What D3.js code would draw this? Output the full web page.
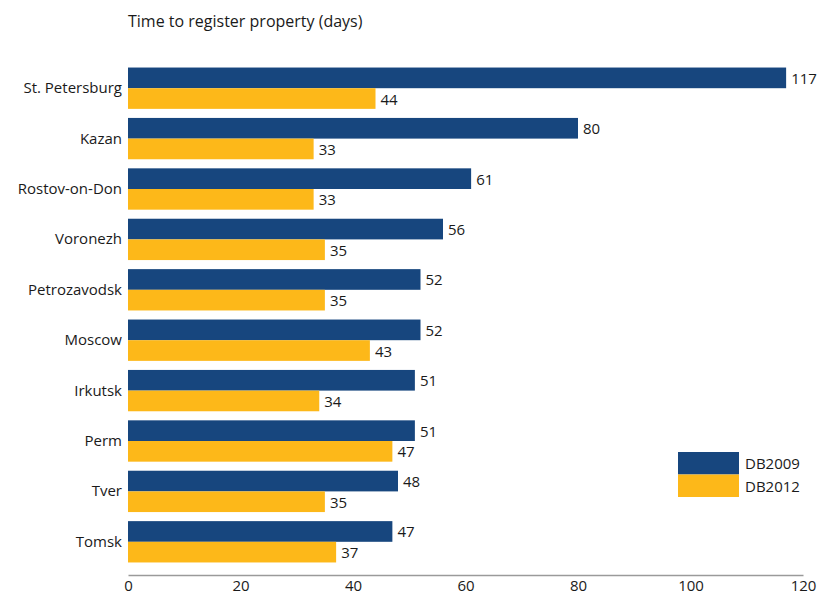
<!DOCTYPE html>
<html>
<head>
<meta charset="utf-8">
<script src="https://cdn.jsdelivr.net/npm/d3@7"></script>
<style>
  body { margin: 0; background: #fff; }
  text { font-family: "Open Sans", sans-serif; fill: #1a1a1a; }
</style>
</head>
<body>
<div id="chart"></div>
<script>
const cities = ["St. Petersburg", "Kazan", "Rostov-on-Don", "Voronezh", "Petrozavodsk",
    "Moscow", "Irkutsk", "Perm", "Tver", "Tomsk"];
const db2009 = [117, 80, 61, 56, 52, 52, 51, 51, 48, 47];
const db2012 = [44, 33, 33, 35, 35, 43, 34, 47, 35, 37];
const seriesNames = ["DB2009", "DB2012"];
const xTicks = [0, 20, 40, 60, 80, 100, 120];

const width = 824, height = 596;
const margin = { top: 63, right: 21, bottom: 21, left: 128 };
const colors = ["#17467e", "#fdb819"];

const svg = d3.select("#chart").append("svg")
    .attr("width", width)
    .attr("height", height);

const x = d3.scaleLinear()
    .domain([0, 120])
    .range([margin.left, width - margin.right]);

const y = d3.scaleBand()
    .domain(cities)
    .range([margin.top, margin.top + 50.4 * cities.length])
    .paddingInner(0.18)
    .paddingOuter(0.09);

const sub = d3.scaleBand()
    .domain(seriesNames)
    .range([0, y.bandwidth()]);

const rows = cities.map((c, i) => ({ city: c, values: [db2009[i], db2012[i]] }));

// Title
svg.append("text")
    .attr("x", margin.left)
    .attr("y", 27)
    .attr("font-size", "16px")
    .text("Time to register property (days)");

const groups = svg.selectAll(".row")
    .data(rows)
    .join("g")
    .attr("class", "row")
    .attr("transform", d => `translate(0,${y(d.city)})`);

groups.selectAll("rect")
    .data(d => d.values.map((v, k) => ({ key: seriesNames[k], value: v, k })))
    .join("rect")
    .attr("x", x(0))
    .attr("y", d => sub(d.key))
    .attr("width", d => x(d.value) - x(0))
    .attr("height", sub.bandwidth())
    .attr("fill", d => colors[d.k]);

groups.selectAll(".val")
    .data(d => d.values.map((v, k) => ({ key: seriesNames[k], value: v })))
    .join("text")
    .attr("class", "val")
    .attr("x", d => x(d.value) + 5)
    .attr("y", d => sub(d.key) + sub.bandwidth() / 2 + 6)
    .attr("font-size", "15px")
    .text(d => d.value);

// Category labels
svg.selectAll(".cat")
    .data(cities)
    .join("text")
    .attr("class", "cat")
    .attr("x", margin.left - 6)
    .attr("y", d => y(d) + y.bandwidth() / 2 + 5)
    .attr("text-anchor", "end")
    .attr("font-size", "15px")
    .text(d => d);

// X axis
const axisY = 575;
const xAxis = svg.append("g")
    .attr("transform", `translate(0,${axisY})`)
    .call(d3.axisBottom(x).tickValues(xTicks).tickSize(0).tickPadding(5));
xAxis.select(".domain").attr("stroke", "#9a9a9a").attr("stroke-width", 1.5);
xAxis.selectAll(".tick text")
    .attr("font-size", "15px")
    .attr("font-family", "Open Sans, sans-serif")
    .attr("fill", "#1a1a1a");

// Legend
const legend = svg.append("g").attr("transform", "translate(678,452)");
seriesNames.forEach((name, i) => {
    legend.append("rect")
        .attr("x", 0)
        .attr("y", i * 22.5)
        .attr("width", 61)
        .attr("height", 22.5)
        .attr("fill", colors[i]);
    legend.append("text")
        .attr("x", 67)
        .attr("y", i * 22.5 + 17)
        .attr("font-size", "15px")
        .text(name);
});
</script>
</body>
</html>
